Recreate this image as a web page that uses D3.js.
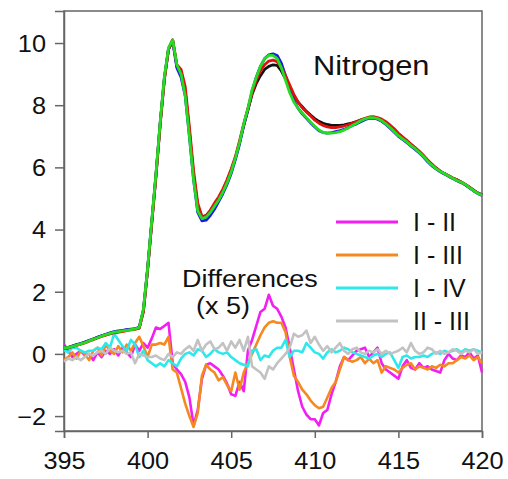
<!DOCTYPE html>
<html>
<head>
<meta charset="utf-8">
<script src="https://cdn.jsdelivr.net/npm/d3@7"></script>
<style>
  body { margin: 0; background: #fff; }
  text { font-family: "Liberation Sans", Arial, sans-serif; fill: #111; }
</style>
</head>
<body>
<div id="chart"></div>
<script>
// energy grid, eV (0.25 eV steps, 395 -> 420)
const energy = d3.range(0, 101).map(i => 395 + i * 0.25)

// spectra (rows of 10 values = 2.5 eV)
const specI = [
  0.22, 0.2, 0.25, 0.3, 0.33, 0.38, 0.43, 0.48, 0.53, 0.58,
  0.62, 0.66, 0.69, 0.71, 0.74, 0.77, 0.79, 0.8, 0.84, 1.4,
  2.7, 4.25, 5.75, 7.4, 8.85, 9.8, 10.1, 9.25, 9.05, 8.45,
  7.15, 5.75, 4.75, 4.4, 4.45, 4.6, 4.8, 5.0, 5.25, 5.55,
  5.9, 6.3, 6.8, 7.35, 7.85, 8.35, 8.7, 8.95, 9.15, 9.25,
  9.3, 9.28, 9.1, 8.85, 8.55, 8.3, 8.1, 7.95, 7.8, 7.68,
  7.57, 7.48, 7.42, 7.38, 7.35, 7.35, 7.35, 7.37, 7.4, 7.43,
  7.47, 7.52, 7.56, 7.6, 7.6, 7.57, 7.52, 7.43, 7.32, 7.2,
  7.07, 6.95, 6.85, 6.73, 6.62, 6.5, 6.37, 6.22, 6.1, 5.98,
  5.88, 5.8, 5.73, 5.66, 5.6, 5.53, 5.45, 5.36, 5.27, 5.18,
  5.12]
const specII = [
  0.2, 0.21, 0.25, 0.29, 0.33, 0.37, 0.43, 0.48, 0.53, 0.58,
  0.63, 0.68, 0.72, 0.74, 0.76, 0.78, 0.8, 0.81, 0.86, 1.4,
  2.75, 4.25, 5.75, 7.4, 8.85, 9.8, 10.05, 9.2, 8.9, 8.3,
  7.0, 5.6, 4.55, 4.28, 4.3, 4.45, 4.65, 4.9, 5.15, 5.45,
  5.8, 6.25, 6.75, 7.35, 7.85, 8.45, 8.9, 9.25, 9.5, 9.62,
  9.65, 9.6, 9.35, 8.95, 8.5, 8.15, 7.9, 7.72, 7.58, 7.43,
  7.3, 7.18, 7.12, 7.1, 7.12, 7.15, 7.18, 7.22, 7.28, 7.35,
  7.4, 7.47, 7.53, 7.58, 7.58, 7.55, 7.48, 7.38, 7.26, 7.13,
  7.0, 6.9, 6.8, 6.68, 6.58, 6.46, 6.33, 6.18, 6.05, 5.95,
  5.86, 5.79, 5.71, 5.64, 5.57, 5.51, 5.44, 5.34, 5.24, 5.16,
  5.1]
const specIII = [
  0.18, 0.19, 0.23, 0.27, 0.31, 0.35, 0.41, 0.46, 0.51, 0.56,
  0.6, 0.64, 0.68, 0.7, 0.72, 0.75, 0.77, 0.79, 0.83, 1.35,
  2.7, 4.2, 5.7, 7.35, 8.8, 9.8, 10.1, 9.3, 9.15, 8.6,
  7.3, 5.9, 4.85, 4.42, 4.45, 4.62, 4.85, 5.05, 5.3, 5.6,
  5.95, 6.35, 6.85, 7.4, 7.9, 8.4, 8.8, 9.1, 9.3, 9.42,
  9.45, 9.4, 9.2, 8.95, 8.65, 8.35, 8.1, 7.92, 7.78, 7.65,
  7.52, 7.42, 7.35, 7.3, 7.28, 7.28, 7.3, 7.33, 7.37, 7.42,
  7.47, 7.53, 7.58, 7.62, 7.63, 7.6, 7.55, 7.47, 7.36, 7.24,
  7.1, 6.98, 6.87, 6.75, 6.64, 6.52, 6.38, 6.24, 6.1, 5.98,
  5.88, 5.8, 5.73, 5.66, 5.6, 5.53, 5.45, 5.36, 5.26, 5.17,
  5.1]
const specIV = [
  0.2, 0.2, 0.24, 0.28, 0.32, 0.36, 0.42, 0.47, 0.52, 0.57,
  0.62, 0.66, 0.7, 0.72, 0.74, 0.76, 0.78, 0.8, 0.85, 1.45,
  2.75, 4.3, 5.8, 7.45, 8.9, 9.85, 10.1, 9.3, 9.0, 8.3,
  7.0, 5.6, 4.6, 4.35, 4.4, 4.55, 4.75, 4.95, 5.2, 5.5,
  5.85, 6.3, 6.8, 7.4, 7.9, 8.5, 8.9, 9.25, 9.5, 9.6,
  9.6, 9.5, 9.2, 8.8, 8.4, 8.1, 7.9, 7.75, 7.6, 7.45,
  7.32, 7.2, 7.12, 7.1, 7.1, 7.12, 7.15, 7.2, 7.27, 7.35,
  7.42, 7.5, 7.56, 7.6, 7.6, 7.57, 7.5, 7.4, 7.28, 7.15,
  7.02, 6.92, 6.82, 6.7, 6.6, 6.48, 6.35, 6.2, 6.07, 5.96,
  5.87, 5.8, 5.72, 5.65, 5.58, 5.52, 5.45, 5.35, 5.25, 5.17,
  5.1]

// differences (x 5)
const diffI_II = [
  0.3, 0.1, -0.1, 0.0, 0.1, -0.05, 0.0, -0.2, 0.05, -0.1,
  0.1, 0.0, 0.15, -0.05, 0.2, 0.05, -0.1, 0.3, 0.1, 0.35,
  0.2, 0.5, 0.85, 0.8, 0.9, 1.0, -0.3, -0.5, -0.65, -0.9,
  -1.4, -2.3, -1.8, -0.8, -0.35, -0.3, -0.4, -0.5, -0.7, -0.95,
  -1.3, -1.35, -0.9, -1.2, 0.1, 0.45, 0.9, 1.35, 1.45, 1.9,
  1.55, 1.45, 1.2, 0.85, 0.2, -0.5, -1.2, -1.7, -1.95, -2.1,
  -2.1, -2.3, -1.9, -1.8, -1.3, -0.9, -0.4, -0.1, -0.2, -0.05,
  0.1, 0.15, 0.2, -0.1, 0.05, 0.2, -0.3, -0.5, -0.6, -0.7,
  -0.8, -0.4, -0.2, -0.45, -0.5, -0.3, -0.45, -0.4, -0.5, -0.55,
  -0.6, -0.2, 0.0, -0.15, -0.2, -0.05, -0.1, 0.05, -0.15, -0.05,
  -0.6]
const diffI_III = [
  -0.2, -0.1, 0.05, -0.15, 0.1, 0.0, -0.2, 0.1, 0.2, -0.05,
  0.3, 0.1, 0.0, 0.25, 0.05, 0.3, 0.1, 0.35, 0.55, 0.25,
  -0.1, 0.3, 0.3, 0.35, 0.3, 0.55, -0.5, -0.6, -1.1, -1.6,
  -2.0, -2.35, -1.9, -0.7, -0.35, -0.5, -0.6, -0.85, -0.75, -1.0,
  -1.2, -0.6, -1.15, -0.6, -0.3, 0.0, 0.3, 0.6, 0.85, 1.0,
  1.05, 1.0, 1.0, 0.7, -0.1, -0.7, -0.9, -1.15, -1.3, -1.5,
  -1.65, -1.75, -1.7, -1.4, -1.1, -0.9, -0.5, -0.1, -0.2, -0.25,
  -0.2, -0.1, -0.3, -0.15, -0.3, -0.2, -0.6, -0.4, -0.45, -0.5,
  -0.6, -0.45, -0.35, -0.3, -0.5, -0.4, -0.45, -0.5, -0.4, -0.45,
  -0.35, -0.4, -0.3, -0.3, -0.2, -0.1, -0.15, -0.05, -0.2, -0.1,
  -0.3]
const diffI_IV = [
  0.13, 0.05, 0.2, 0.2, 0.1, 0.05, 0.1, 0.1, 0.2, 0.15,
  0.35, 0.2, 0.65, 0.45, 0.25, 0.1, 0.45, 0.3, -0.1, 0.1,
  -0.2, -0.3, -0.4, -0.3, -0.4, -0.2, -0.3, -0.4, -0.15, 0.0,
  0.05, -0.05, 0.15, 0.1, -0.1, 0.0, 0.15, 0.05, 0.0, 0.05,
  -0.1, -0.2, -0.3, -0.35, -0.4, 0.1, 0.15, -0.2, -0.05, -0.1,
  0.1, 0.2, 0.2, 0.45, -0.1, 0.1, 0.1, 0.05, 0.35, 0.2,
  0.05, 0.0, -0.15, 0.05, 0.15, 0.05, 0.1, 0.2, 0.15, 0.05,
  0.0, -0.05, -0.1, -0.15, -0.05, 0.0, -0.1, 0.0, 0.05, -0.2,
  -0.45, -0.1, -0.05, -0.15, -0.1, -0.1, -0.05, -0.1, 0.0, 0.05,
  0.0, 0.1, 0.05, 0.1, 0.15, 0.05, 0.15, 0.1, 0.15, 0.1,
  0.05]
const diffII_III = [
  -0.25, -0.15, -0.2, -0.1, -0.2, -0.1, 0.0, -0.05, 0.05, 0.1,
  0.0, 0.2, 0.1, 0.05, 0.1, 0.0, 0.05, -0.3, 0.0, -0.05,
  -0.1, -0.1, -0.05, -0.15, -0.2, 0.0, -0.1, 0.05, 0.0, 0.15,
  0.25, 0.1, 0.45, 0.1, 0.3, 0.4, 0.15, 0.2, 0.35, 0.1,
  0.4, 0.2, 0.45, 0.1, 0.55, -0.4, -0.5, -0.6, -0.8, -0.4,
  -0.5, -0.3, -0.15, 0.0, 0.2, 0.65, 0.55, 0.6, 0.75, 0.35,
  0.55, 0.3, 0.1, 0.25, 0.05, 0.2, 0.35, 0.1, 0.0, 0.15,
  0.2, 0.05, 0.0, 0.1, 0.05, 0.15, 0.0, 0.1, 0.0, 0.05,
  0.1, 0.2, 0.05, 0.35, 0.1, 0.0, 0.05, 0.2, 0.15, 0.0,
  0.1, 0.0, 0.05, 0.15, 0.1, 0.0, 0.1, 0.05, 0.15, 0.0,
  0.05]

const xTicks = [395, 400, 405, 410, 415, 420]
const yTicks = [-2, 0, 2, 4, 6, 8, 10]

const spectra = [
  {name: "I", values: specI, color: "#111111"},
  {name: "II", values: specII, color: "#1a1ae6"},
  {name: "III", values: specIII, color: "#e01010"},
  {name: "IV", values: specIV, color: "#22dd22"}
]
const diffs = [
  {name: "I - II", values: diffI_II, color: "#f21ef2"},
  {name: "I - III", values: diffI_III, color: "#f5891f"},
  {name: "I - IV", values: diffI_IV, color: "#2ee8ec"},
  {name: "II - III", values: diffII_III, color: "#c2c2c2"}
]

const W = 508, H = 479
const margin = {top: 11, right: 26, bottom: 48, left: 64}
const sx = 1.1  // text in the original is slightly wide

const svg = d3.select("#chart").append("svg")
    .attr("width", W)
    .attr("height", H)

const x = d3.scaleLinear().domain([395, 420]).range([margin.left, W - margin.right])
const y = d3.scaleLinear().domain([-2.48, 11.03]).range([H - margin.bottom, margin.top])

// frame
svg.append("rect")
    .attr("x", x.range()[0]).attr("y", y.range()[1])
    .attr("width", x.range()[1] - x.range()[0])
    .attr("height", y.range()[0] - y.range()[1])
    .attr("fill", "none")
    .attr("stroke", "#666")
    .attr("stroke-width", 1.5)

// axes
const xAxis = svg.append("g")
    .attr("transform", `translate(0,${y.range()[0]})`)
    .call(d3.axisBottom(x).tickValues(xTicks).tickSize(7).tickPadding(15))
const yAxis = svg.append("g")
    .attr("transform", `translate(${x.range()[0]},0)`)
    .call(d3.axisLeft(y).tickValues(yTicks).tickSize(9).tickPadding(7.4))

for (const ax of [xAxis, yAxis]) {
    ax.select(".domain").attr("stroke", "#666").attr("stroke-width", 1.5)
    ax.selectAll(".tick line").attr("stroke", "#666").attr("stroke-width", 1.5)
    ax.selectAll(".tick text")
        .attr("font-size", 23)
        .attr("font-family", "Liberation Sans, Arial, sans-serif")
        .attr("fill", "#111")
        .attr("transform", `scale(${sx},1)`)
}
yAxis.selectAll(".tick text").attr("dy", "0.36em")

const line = d3.line()
    .x((d, i) => x(energy[i]))
    .y(d => y(d))

// difference traces
svg.append("g").selectAll("path")
    .data(diffs)
    .join("path")
    .attr("d", d => line(d.values))
    .attr("fill", "none")
    .attr("stroke", d => d.color)
    .attr("stroke-width", 2.6)
    .attr("stroke-linejoin", "round")

// spectra
svg.append("g").selectAll("path")
    .data(spectra)
    .join("path")
    .attr("d", d => line(d.values))
    .attr("fill", "none")
    .attr("stroke", d => d.color)
    .attr("stroke-width", 2.8)
    .attr("stroke-linejoin", "round")

// labels
function label(txt, px, py, size) {
    svg.append("text")
        .attr("transform", `translate(${px},${py}) scale(${sx},1)`)
        .attr("font-size", size)
        .text(txt)
}
label("Nitrogen", 313, 75, 28)
label("Differences", 182, 287, 24.5)
label("(x 5)", 196, 314, 24.5)

// legend
const legend = svg.append("g")
    .selectAll("g")
    .data(diffs)
    .join("g")
    .attr("transform", (d, i) => `translate(336,${222 + i * 33})`)
legend.append("line")
    .attr("x1", 0).attr("x2", 62)
    .attr("stroke", d => d.color)
    .attr("stroke-width", 3)
legend.append("text")
    .attr("x", 77)
    .attr("dy", "0.36em")
    .attr("font-size", 25)
    .text(d => d.name)
</script>
</body>
</html>
